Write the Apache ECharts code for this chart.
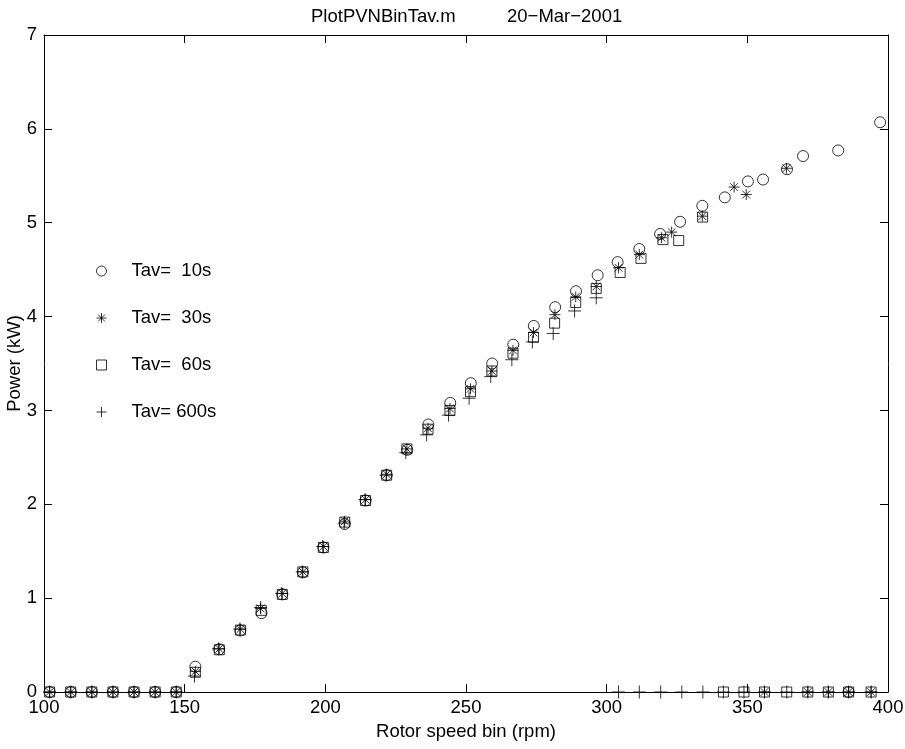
<!DOCTYPE html>
<html>
<head>
<meta charset="utf-8">
<script src="https://cdn.jsdelivr.net/npm/echarts@6/dist/echarts.min.js"></script>
<style>html,body{margin:0;padding:0;background:#fff}#c{width:905px;height:749px}</style>
</head>
<body>
<div id="c"></div>
<script>
// Zero-power bins (rpm)
var zeroLow = [102, 109.5, 117, 124.5, 132, 139.5, 147];

// Tav = 10s (circles)
var x10 = [153.8, 162.3, 169.8, 177.3, 184.7, 192.0, 199.3, 206.9, 214.3, 221.8, 229.1, 236.6, 244.4, 251.7, 259.3, 266.8, 274.1, 281.7, 289.1, 296.8, 303.9, 311.6, 319.0, 326.1, 334.0, 342.0, 350.2, 355.6, 364.1, 369.8, 382.3, 397.2];
var y10 = [0.27, 0.455, 0.655, 0.84, 1.04, 1.275, 1.54, 1.79, 2.04, 2.31, 2.58, 2.85, 3.08, 3.29, 3.50, 3.70, 3.90, 4.10, 4.27, 4.44, 4.58, 4.72, 4.88, 5.01, 5.18, 5.27, 5.44, 5.46, 5.57, 5.71, 5.77, 6.07];
var zeroHigh10 = [386];

// Tav = 30s (asterisks)
var x30 = [153.8, 162.3, 169.8, 177.0, 184.7, 192.0, 199.3, 206.9, 214.3, 221.8, 229.0, 236.5, 244.3, 251.6, 259.2, 266.7, 274.0, 281.6, 289.0, 296.3, 304.2, 311.6, 319.5, 323.1, 334.0, 345.3, 349.6, 363.9];
var y30 = [0.22, 0.46, 0.67, 0.89, 1.05, 1.28, 1.55, 1.82, 2.05, 2.32, 2.59, 2.81, 3.02, 3.23, 3.42, 3.64, 3.83, 4.02, 4.21, 4.32, 4.52, 4.66, 4.84, 4.90, 5.07, 5.38, 5.30, 5.58];
var zeroHigh30 = [356.1, 371.5, 378.8, 386, 394];

// Tav = 60s (squares)
var x60 = [153.8, 162.3, 169.8, 177.2, 184.7, 192.0, 199.3, 206.9, 214.3, 221.8, 229.0, 236.5, 244.3, 251.6, 259.2, 266.7, 274.0, 281.5, 289.0, 296.3, 304.8, 312.2, 320.0, 325.6, 334.1];
var y60 = [0.21, 0.45, 0.66, 0.87, 1.04, 1.28, 1.54, 1.81, 2.04, 2.31, 2.59, 2.80, 3.00, 3.20, 3.42, 3.61, 3.78, 3.93, 4.15, 4.30, 4.47, 4.62, 4.82, 4.81, 5.06];
var zeroHigh60 = [341.5, 348.8, 356.1, 364, 371.5, 378.8, 386, 394];

// Tav = 600s (plus)
var x600 = [153.5, 162.0, 169.6, 177.0, 184.5, 191.8, 199.1, 206.7, 214.1, 221.6, 228.6, 236.0, 243.8, 251.1, 258.8, 266.3, 273.6, 281.0, 288.6, 296.3];
var y600 = [0.17, 0.46, 0.67, 0.90, 1.05, 1.28, 1.55, 1.80, 2.05, 2.31, 2.55, 2.74, 2.95, 3.13, 3.36, 3.54, 3.73, 3.82, 4.06, 4.20];
var zeroHigh600 = [304.2, 311.6, 319.2, 326.7, 334.2, 341.5, 348.8, 356.1, 364, 371.5, 378.8, 386, 394];

var seriesNames = ['Tav=  10s', 'Tav=  30s', 'Tav=  60s', 'Tav= 600s'];
var xTicks = {min: 100, max: 400, interval: 50};
var yTicks = {min: 0, max: 7, interval: 1};
var titleText = 'PlotPVNBinTav.m          20\u2212Mar\u22122001';
var xName = 'Rotor speed bin (rpm)';
var yName = 'Power (kW)';

function pts(xs, ys, zh) {
  var d = [];
  zeroLow.forEach(function (x) { d.push([x, 0]); });
  xs.forEach(function (x, i) { d.push([x, ys[i]]); });
  zh.forEach(function (x) { d.push([x, 0]); });
  return d;
}

var FONT = 'Liberation Sans, Arial, Helvetica, sans-serif';
var FS = 18.5;
var hollow = {color: 'rgba(0,0,0,0)', borderColor: '#000', borderWidth: 1};
var SYM_AST = 'path://M0,5L10,5M5,0L5,10M1.5,1.5L8.5,8.5M1.5,8.5L8.5,1.5';
var SYM_PLUS = 'path://M0,5L10,5M5,0L5,10';
var symbols = ['circle', SYM_AST, 'rect', SYM_PLUS];
var sizes = [11, 11, 10, 13];
var dataSets = [pts(x10, y10, zeroHigh10), pts(x30, y30, zeroHigh30), pts(x60, y60, zeroHigh60), pts(x600, y600, zeroHigh600)];

var axisCommon = {
  axisLine: {show: true, onZero: false, lineStyle: {color: '#000', width: 1}},
  axisTick: {show: true, inside: true, length: 8, lineStyle: {color: '#000', width: 1}},
  splitLine: {show: false}
};

function ax(base, extra) {
  return Object.assign({}, JSON.parse(JSON.stringify(axisCommon)), base, extra);
}

var chart = echarts.init(document.getElementById('c'), null, {renderer: 'canvas'});
chart.setOption({
  animation: false,
  backgroundColor: '#fff',
  textStyle: {fontFamily: FONT},
  title: {
    text: titleText, left: 306, top: 2,
    textStyle: {fontSize: FS, fontWeight: 'normal', color: '#000', fontFamily: FONT}
  },
  grid: {left: 44, right: 17, top: 35, bottom: 57, containLabel: false, outerBoundsMode: 'none'},
  legend: {
    orient: 'vertical', left: 91, top: 256,
    itemWidth: 10, itemHeight: 10, itemGap: 27,
    textStyle: {fontSize: FS, color: '#000', fontFamily: FONT, padding: [0, 0, 0, 20], lineHeight: 20},
    data: seriesNames.map(function (n, i) {
      return {name: n, icon: symbols[i], itemStyle: hollow};
    })
  },
  xAxis: [
    ax(xTicks, {type: 'value', position: 'bottom',
      axisLabel: {color: '#000', fontSize: FS, fontFamily: FONT, margin: 6},
      name: xName, nameLocation: 'middle', nameGap: 30, nameMoveOverlap: false,
      nameTextStyle: {fontSize: FS, color: '#000', fontFamily: FONT}}),
    ax(xTicks, {type: 'value', position: 'top', axisLabel: {show: false}})
  ],
  yAxis: [
    ax(yTicks, {type: 'value', position: 'left',
      axisLabel: {color: '#000', fontSize: FS, fontFamily: FONT, margin: 7},
      name: yName, nameLocation: 'middle', nameGap: 20, nameMoveOverlap: false,
      nameTextStyle: {fontSize: FS, color: '#000', fontFamily: FONT}}),
    ax(yTicks, {type: 'value', position: 'right', axisLabel: {show: false}})
  ],
  series: seriesNames.map(function (n, i) {
    return {
      name: n, type: 'scatter', xAxisIndex: 0, yAxisIndex: 0,
      symbol: symbols[i], symbolSize: sizes[i],
      itemStyle: hollow, silent: true,
      emphasis: {disabled: true},
      data: dataSets[i]
    };
  })
});
</script>
</body>
</html>
